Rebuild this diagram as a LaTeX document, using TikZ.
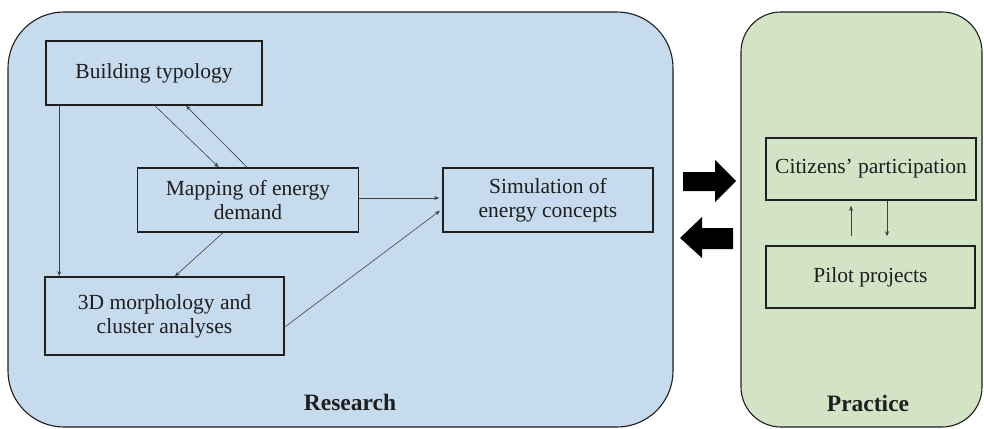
\documentclass[tikz,border=0pt]{standalone}
\usepackage{fontspec}
\setmainfont{Liberation Serif}
\newfontfamily\timesfont{Liberation Serif}
\usetikzlibrary{arrows.meta,calc}
\definecolor{resfill}{RGB}{198,219,237}
\definecolor{pracfill}{RGB}{211,227,197}
\definecolor{ink}{RGB}{30,30,30}
\tikzset{
  panel/.style={draw=ink,line width=1.1pt},
  box/.style={draw=ink,line width=1.6pt,rectangle,inner sep=0pt,align=center,
    font=\timesfont\fontsize{21.5}{24}\selectfont,text=ink},
  conn/.style={draw=ink!85,line width=0.6pt,-{Stealth[length=5pt,width=4pt]}},
  lbl/.style={font=\timesfont\fontsize{23.5}{27}\selectfont\bfseries,text=ink}
}
\begin{document}
\begin{tikzpicture}[x=1pt,y=-1pt]
\useasboundingbox (0,0) rectangle (984,428);
% panels
\draw[panel,fill=resfill,rounded corners=56pt] (8,12) rectangle (673,427);
\draw[panel,fill=pracfill,rounded corners=40pt] (741,12) rectangle (982,427);
\node[lbl] (research) at (350,402) {Research};
\node[lbl] (practice) at (868,403) {Practice};
% boxes
\node[box,minimum width=216pt,minimum height=64pt] (bt) at (154,73) {Building typology};
\node[box,minimum width=221pt,minimum height=64pt] (map) at (248,200) {Mapping of energy\\demand};
\node[box,minimum width=239pt,minimum height=78pt] (morph) at (164.5,316) {3D morphology and\\cluster analyses};
\node[box,minimum width=210pt,minimum height=64pt] (sim) at (548,200) {Simulation of\\energy concepts};
\node[box,minimum width=210pt,minimum height=62pt] (cit) at (871,169) {Citizens’ participation};
\node[box,minimum width=209pt,minimum height=62pt] (pil) at (870.5,277) {Pilot projects};
% connectors research
\draw[conn] ([xshift=14pt]bt.south west) -- ([xshift=15pt]morph.north west);
\draw[conn] ([xshift=1pt]bt.south) -- ([xshift=82pt]map.north west);
\draw[conn] ([xshift=-1pt]map.north) -- ([xshift=32pt]bt.south);
\draw[conn] ([xshift=-25pt]map.south) -- ([xshift=10.5pt]morph.north);
\draw[conn,shorten >=3pt] ([yshift=2pt]map.east) -- ([yshift=2pt]sim.west);
\draw[conn,shorten >=3pt] ([yshift=-11pt]morph.east) -- ([yshift=-9pt]sim.west);
% connectors practice
\draw[conn,shorten <=9pt,shorten >=5pt] ([xshift=-19.5pt]pil.north) -- ([xshift=-20pt]cit.south);
\draw[conn,shorten >=9pt] ([xshift=16pt]cit.south) -- ([xshift=16.5pt]pil.north);
% big arrows
\fill[black] (683,172) -- (715,172) -- (715,160) -- (736,181) -- (715,202) -- (715,191) -- (683,191) -- cycle;
\fill[black] (733,228) -- (702,228) -- (702,217) -- (680,238) -- (702,258) -- (702,249) -- (733,249) -- cycle;
\end{tikzpicture}
\end{document}
